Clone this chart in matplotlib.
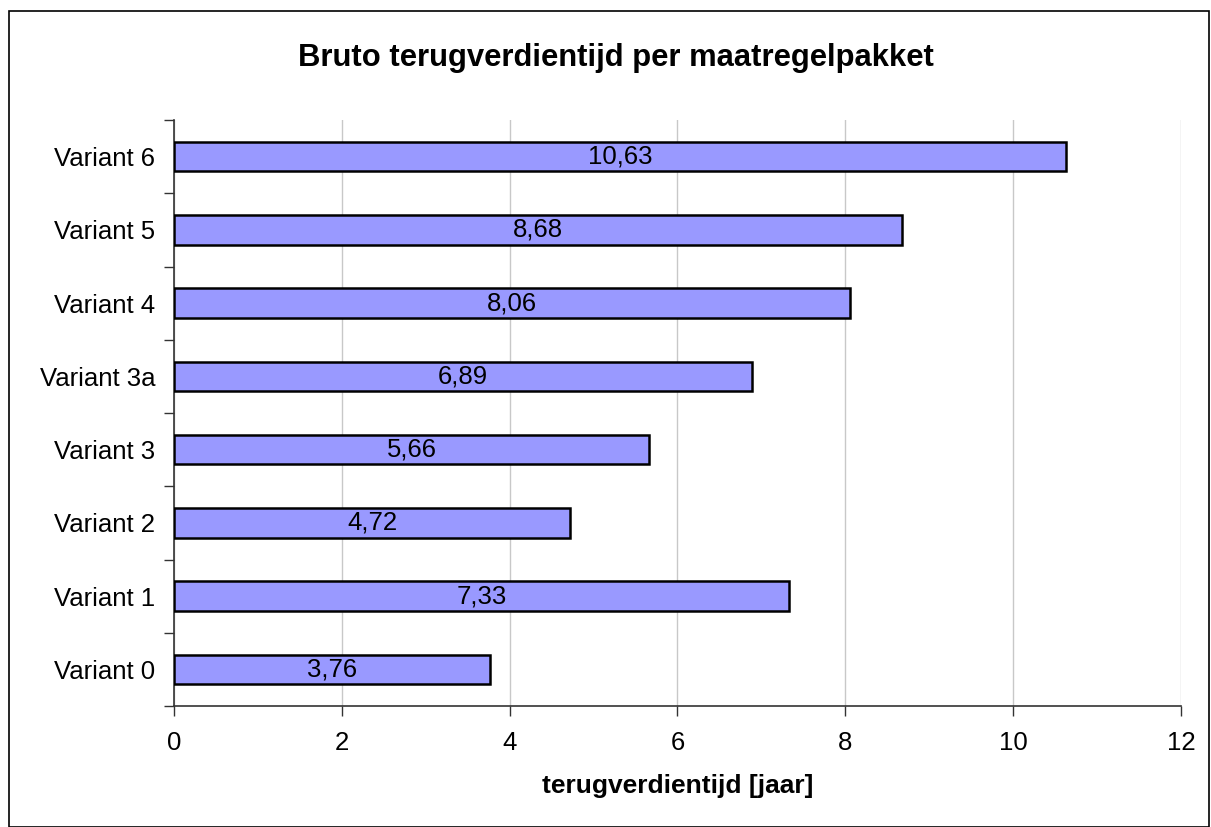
import matplotlib.pyplot as plt
from matplotlib.patches import Rectangle

plt.rcParams['font.family'] = ['Liberation Sans', 'DejaVu Sans']

# data
categories = ['Variant 0', 'Variant 1', 'Variant 2', 'Variant 3',
              'Variant 3a', 'Variant 4', 'Variant 5', 'Variant 6']
values = [3.76, 7.33, 4.72, 5.66, 6.89, 8.06, 8.68, 10.63]
value_labels = ['3,76', '7,33', '4,72', '5,66', '6,89', '8,06', '8,68', '10,63']
x_ticks = [0, 2, 4, 6, 8, 10, 12]

fig = plt.figure(figsize=(12.11, 8.27), dpi=100)
ax = fig.add_axes([0.1437, 0.1463, 0.8315, 0.7086])

pos = list(range(len(categories)))
bars = ax.barh(pos, values, height=0.4, color='#9999FF',
               edgecolor='black', linewidth=1.8, zorder=3)
for b, lab in zip(bars, value_labels):
    ax.text(b.get_width() / 2, b.get_y() + b.get_height() / 2, lab,
            ha='center', va='center', fontsize=18.5, zorder=4)

ax.set_xlim(0, 12)
ax.set_ylim(-0.5, len(categories) - 0.5)
ax.set_xticks(x_ticks)
ax.set_xticklabels([str(t) for t in x_ticks], fontsize=18.5)
ax.tick_params(axis='x', direction='out', length=7, width=1, color='#333333', pad=11)
ax.xaxis.grid(True, color='#c8c8c8', linewidth=1, zorder=0)

# category labels between boundary ticks (excel style)
ax.set_yticks([p - 0.5 for p in pos] + [len(categories) - 0.5])
ax.set_yticklabels([])
ax.set_yticks(pos, minor=True)
ax.set_yticklabels(categories, minor=True, fontsize=18.5)
ax.tick_params(axis='y', which='major', direction='out', length=7, width=1, color='#333333')
ax.tick_params(axis='y', which='minor', length=0, pad=13.5)

for s in ['top', 'right']:
    ax.spines[s].set_visible(False)
for s in ['left', 'bottom']:
    ax.spines[s].set_color('#333333')
    ax.spines[s].set_linewidth(1.2)

ax.set_xlabel('terugverdientijd [jaar]', fontsize=19, fontweight='bold', labelpad=14)
fig.suptitle('Bruto terugverdientijd per maatregelpakket', fontsize=22.3,
             fontweight='bold', x=0.5083, y=0.948)

# outer frame
fig.patches.append(Rectangle((0.0075, 0.0), 0.991, 0.9865, transform=fig.transFigure,
                             fill=False, edgecolor='black', linewidth=1.2))

fig.savefig('out.png', dpi=100)
